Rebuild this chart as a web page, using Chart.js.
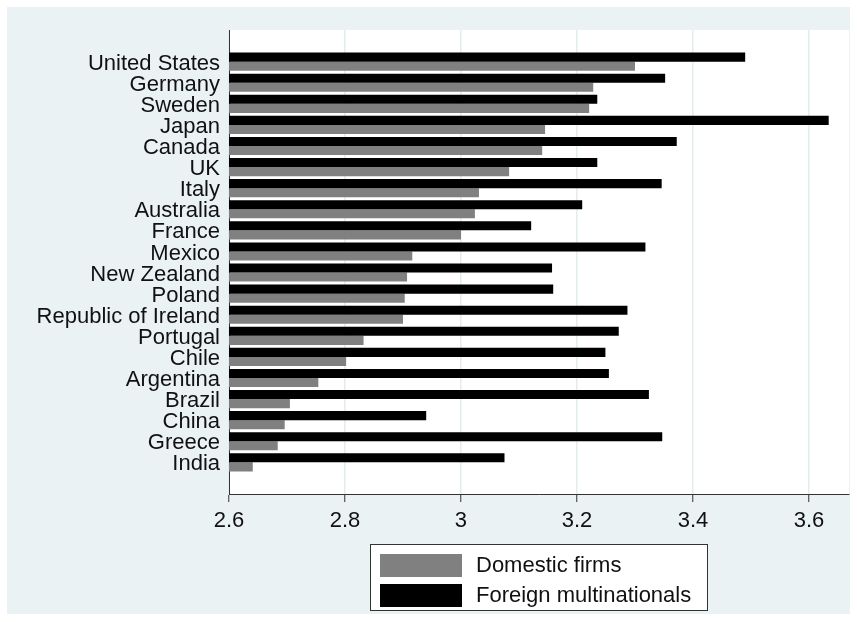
<!DOCTYPE html>
<html>
<head>
<meta charset="utf-8">
<script src="https://cdn.jsdelivr.net/npm/chart.js@4"></script>
<style>
  html, body { margin: 0; padding: 0; background: #fff; }
  #wrap { width: 857px; height: 622px; }
</style>
</head>
<body>
<div id="wrap"><canvas id="myChart"></canvas></div>
<script>
var countries = ["United States", "Germany", "Sweden", "Japan", "Canada", "UK", "Italy",
  "Australia", "France", "Mexico", "New Zealand", "Poland", "Republic of Ireland",
  "Portugal", "Chile", "Argentina", "Brazil", "China", "Greece", "India"];
var domestic = [3.300, 3.228, 3.221, 3.145, 3.140, 3.083, 3.031, 3.024, 3.000, 2.916,
  2.907, 2.903, 2.900, 2.832, 2.802, 2.754, 2.705, 2.696, 2.684, 2.641];
var foreign = [3.490, 3.352, 3.235, 3.634, 3.372, 3.235, 3.346, 3.209, 3.121, 3.318,
  3.157, 3.159, 3.287, 3.272, 3.249, 3.255, 3.324, 2.940, 3.347, 3.075];
var xTicks = [2.6, 2.8, 3, 3.2, 3.4, 3.6];

var FONT = "'Liberation Sans', Arial, sans-serif";

function points(values) {
  return values.map(function (v, i) { return { x: v, y: i }; });
}

// grey panel, white plot region and the boxed legend underneath
var panel = {
  id: "panel",
  beforeDraw: function (chart) {
    var c = chart.ctx, a = chart.chartArea;
    c.save();
    c.fillStyle = "#ffffff";
    c.fillRect(0, 0, chart.width, chart.height);
    c.fillStyle = "#eaf2f3";
    c.fillRect(7, 7, 843, 607);
    c.fillStyle = "#ffffff";
    c.fillRect(a.left, a.top, a.right - a.left, a.bottom - a.top);
    c.restore();
  },
  afterDraw: function (chart) {
    var c = chart.ctx;
    var items = [chart.data.datasets[1], chart.data.datasets[0]];
    c.save();
    c.fillStyle = "#ffffff";
    c.fillRect(370, 544, 337, 66);
    c.strokeStyle = "#333333";
    c.lineWidth = 1;
    c.strokeRect(370.5, 544.5, 337, 66);
    c.font = "22px " + FONT;
    c.textBaseline = "middle";
    items.forEach(function (ds, k) {
      var y = 554 + k * 30;
      c.fillStyle = ds.backgroundColor;
      c.fillRect(380, y, 82, 23);
      c.fillStyle = "#111111";
      c.fillText(ds.label, 476, y + 12);
    });
    c.restore();
  }
};

var ctx = document.getElementById("myChart").getContext("2d");
var myChart = new Chart(ctx, {
  type: "bar",
  data: {
    datasets: [
      {
        label: "Foreign multinationals",
        data: points(foreign),
        backgroundColor: "#000000",
        categoryPercentage: 0.86,
        barPercentage: 1.0
      },
      {
        label: "Domestic firms",
        data: points(domestic),
        backgroundColor: "#808080",
        categoryPercentage: 0.86,
        barPercentage: 1.0
      }
    ]
  },
  options: {
    indexAxis: "y",
    responsive: true,
    maintainAspectRatio: false,
    animation: false,
    layout: { padding: { top: 30, right: 8, left: 0, bottom: 0 } },
    plugins: {
      legend: { display: false },
      tooltip: { enabled: false }
    },
    scales: {
      x: {
        type: "linear",
        min: 2.6,
        max: 3.669,
        afterBuildTicks: function (axis) {
          axis.ticks = xTicks.map(function (v) { return { value: v }; });
        },
        afterFit: function (axis) { axis.height = 128; },
        grid: {
          color: "#e3ecee",
          lineWidth: 1.5,
          drawTicks: true,
          tickLength: 8,
          tickColor: "#333333",
          tickWidth: 1
        },
        border: { display: true, color: "#333333", width: 1 },
        ticks: {
          padding: 6,
          color: "#111111",
          font: { family: FONT, size: 22 },
          callback: function (v) { return String(v); }
        }
      },
      y: {
        type: "linear",
        reverse: true,
        offset: false,
        min: -1.5,
        max: 20.5,
        afterBuildTicks: function (axis) {
          axis.ticks = countries.map(function (_, i) { return { value: i }; });
        },
        afterFit: function (axis) { axis.width = 229; },
        grid: { display: false, drawTicks: false, offset: false },
        border: { display: true, color: "#333333", width: 1 },
        ticks: {
          autoSkip: false,
          padding: 9,
          labelOffset: 2,
          color: "#111111",
          font: { family: FONT, size: 22, lineHeight: 1 },
          callback: function (v) { return countries[v]; }
        }
      }
    }
  },
  plugins: [panel]
});
</script>
</body>
</html>
